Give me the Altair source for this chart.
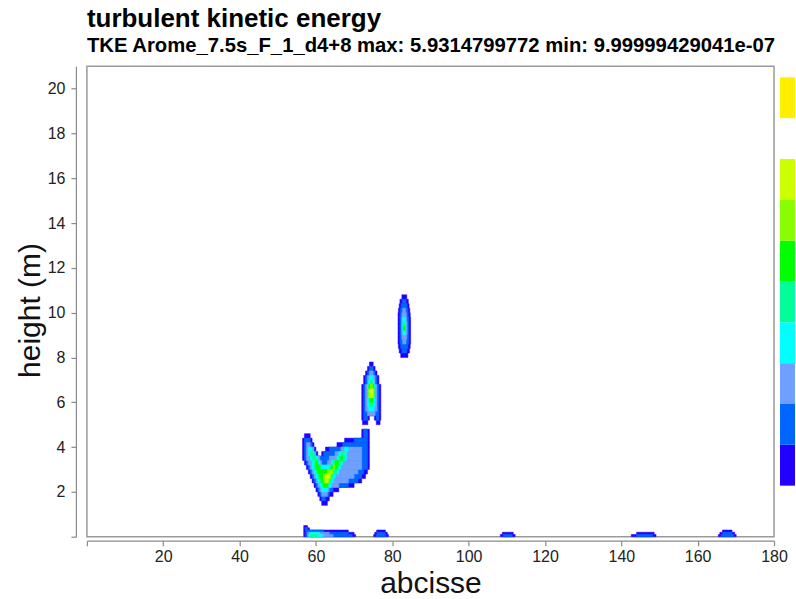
import altair as alt
import pandas as pd

title_text = "turbulent kinetic energy"
subtitle_text = "TKE Arome_7.5s_F_1_d4+8 max: 5.9314799772 min: 9.99999429041e-07"
x_title = "abcisse"
y_title = "height (m)"
x_ticks = [0, 20, 40, 60, 80, 100, 120, 140, 160, 180]
y_ticks = [0, 2, 4, 6, 8, 10, 12, 14, 16, 18, 20]

levels = [1, 2, 3, 4, 5, 6, 7, 8, 9, 10]
level_colors = ["#2200ff", "#0066ff", "#6fa0ff", "#00ffff", "#00ff99",
                "#00ff00", "#88ff00", "#ccff00", "#ffffff", "#ffee00"]

# contour bands: (row bottom height, x start, x end, level)
# rows of 0.2 m
v_blob = [
    (4.6, 72.0, 74.0, 1), (4.6, 72.5, 73.5, 2),
    (4.4, 57.0, 58.5, 1), (4.4, 72.0, 74.0, 1), (4.4, 72.5, 73.5, 2),
    (4.2, 56.5, 59.0, 1), (4.2, 57.0, 58.5, 2), (4.2, 67.5, 74.0, 1), (4.2, 70.0, 73.5, 2),
    (4.0, 56.5, 59.5, 1), (4.0, 57.0, 59.0, 2), (4.0, 57.5, 58.5, 3), (4.0, 65.5, 74.0, 1), (4.0, 67.0, 73.5, 2),
    (3.8, 56.5, 60.0, 1), (3.8, 57.0, 59.5, 2), (3.8, 57.5, 59.5, 3), (3.8, 58.0, 59.0, 4),
    (3.8, 62.5, 74.0, 1), (3.8, 63.5, 73.5, 2), (3.8, 66.5, 72.0, 3), (3.8, 67.5, 68.5, 4),
    (3.6, 56.5, 60.5, 1), (3.6, 57.0, 60.0, 2), (3.6, 57.5, 60.0, 3), (3.6, 58.0, 59.5, 4), (3.6, 58.5, 59.5, 5),
    (3.6, 61.5, 74.0, 1), (3.6, 62.0, 73.5, 2), (3.6, 65.0, 72.0, 3), (3.6, 66.0, 68.0, 4), (3.6, 66.5, 67.5, 5),
    (3.4, 56.5, 74.0, 1), (3.4, 57.0, 73.5, 2), (3.4, 57.5, 61.0, 3), (3.4, 63.5, 72.0, 3),
    (3.4, 58.5, 60.5, 4), (3.4, 59.0, 60.0, 5),
    (3.4, 65.5, 68.0, 4), (3.4, 66.0, 67.5, 5), (3.4, 66.5, 67.0, 6),
    (3.2, 57.0, 74.0, 1), (3.2, 57.5, 73.5, 2), (3.2, 58.0, 61.5, 3), (3.2, 63.0, 72.0, 3),
    (3.2, 59.0, 61.0, 4), (3.2, 59.5, 60.5, 5),
    (3.2, 60.0, 60.5, 6), (3.2, 64.0, 67.0, 4), (3.2, 64.5, 66.5, 5), (3.2, 65.0, 66.0, 6),
    (3.0, 57.5, 74.0, 1), (3.0, 58.0, 73.5, 2), (3.0, 58.5, 72.0, 3), (3.0, 59.0, 66.5, 4), (3.0, 59.5, 61.5, 5),
    (3.0, 60.0, 61.0, 6), (3.0, 63.5, 66.0, 5), (3.0, 64.0, 65.5, 6), (3.0, 64.5, 65.0, 7),
    (2.8, 58.0, 73.5, 1), (2.8, 58.5, 72.5, 2), (2.8, 59.0, 71.0, 3), (2.8, 59.5, 66.0, 4), (2.8, 60.0, 65.5, 5),
    (2.8, 60.5, 64.5, 6), (2.8, 63.0, 64.5, 7),
    (2.6, 58.5, 73.0, 1), (2.6, 59.0, 72.0, 2), (2.6, 59.5, 70.0, 3), (2.6, 60.0, 65.0, 4), (2.6, 60.5, 64.5, 5),
    (2.6, 61.0, 64.0, 6), (2.6, 62.0, 64.0, 7), (2.6, 62.5, 63.5, 8),
    (2.4, 59.0, 72.0, 1), (2.4, 59.5, 71.0, 2), (2.4, 60.0, 68.5, 3), (2.4, 60.5, 64.5, 4), (2.4, 61.0, 64.0, 5),
    (2.4, 61.5, 63.5, 6), (2.4, 62.0, 63.5, 7), (2.4, 62.5, 63.0, 8),
    (2.2, 59.5, 70.0, 1), (2.2, 60.0, 68.5, 2), (2.2, 60.5, 66.0, 3), (2.2, 61.0, 64.0, 4), (2.2, 61.5, 63.5, 5),
    (2.2, 62.0, 63.0, 6),
    (2.0, 60.0, 66.0, 1), (2.0, 60.5, 64.5, 2), (2.0, 61.0, 63.5, 3), (2.0, 61.5, 63.0, 4),
    (1.8, 60.5, 64.5, 1), (1.8, 61.0, 63.5, 2), (1.8, 61.5, 63.0, 3),
    (1.6, 61.0, 63.5, 1), (1.6, 61.5, 62.5, 2),
    (1.4, 61.5, 63.0, 1),
]

mid_blob = [
    (7.6, 74.0, 75.0, 1),
    (7.4, 73.5, 75.5, 1), (7.4, 74.0, 75.0, 2),
    (7.2, 73.0, 76.0, 1), (7.2, 73.5, 75.5, 2), (7.2, 74.0, 75.0, 3),
    (7.0, 72.5, 76.5, 1), (7.0, 73.0, 76.0, 2), (7.0, 73.5, 75.5, 3), (7.0, 74.0, 75.0, 4),
    (6.8, 72.5, 76.5, 1), (6.8, 73.0, 76.0, 2), (6.8, 73.5, 75.5, 3), (6.8, 73.8, 75.2, 4), (6.8, 74.2, 74.8, 5),
    (6.6, 72.0, 77.0, 1), (6.6, 72.5, 76.5, 2), (6.6, 73.0, 76.0, 3), (6.6, 73.5, 75.5, 4), (6.6, 73.8, 75.2, 6),
    (6.6, 74.2, 74.8, 7),
    (6.4, 72.0, 77.0, 1), (6.4, 72.5, 76.5, 2), (6.4, 73.0, 76.0, 3), (6.4, 73.5, 75.5, 5), (6.4, 73.8, 75.2, 7),
    (6.4, 74.1, 74.9, 8),
    (6.2, 72.0, 77.0, 1), (6.2, 72.5, 76.5, 2), (6.2, 73.0, 76.0, 3), (6.2, 73.5, 75.5, 5), (6.2, 73.8, 75.2, 7),
    (6.2, 74.1, 74.9, 8),
    (6.0, 72.0, 77.0, 1), (6.0, 72.5, 76.5, 2), (6.0, 73.0, 76.0, 3), (6.0, 73.5, 75.5, 4), (6.0, 74.0, 75.0, 6),
    (5.8, 72.0, 77.0, 1), (5.8, 72.5, 76.5, 2), (5.8, 73.0, 76.0, 3), (5.8, 73.5, 75.5, 4), (5.8, 74.0, 75.0, 5),
    (5.6, 72.0, 77.0, 1), (5.6, 72.5, 76.5, 2), (5.6, 73.0, 76.0, 3), (5.6, 73.8, 75.2, 4),
    (5.4, 72.0, 77.0, 1), (5.4, 72.5, 76.5, 2), (5.4, 73.5, 75.5, 3),
    (5.2, 72.0, 74.0, 1), (5.2, 72.5, 73.5, 2), (5.2, 75.3, 77.0, 1), (5.2, 75.8, 76.5, 2),
    (5.0, 72.2, 73.6, 1), (5.0, 75.8, 76.8, 1),
]

top_blob = [
    (10.6, 82.5, 83.8, 1),
    (10.4, 82.0, 84.2, 1), (10.4, 82.6, 83.6, 2),
    (10.2, 81.8, 84.4, 1), (10.2, 82.3, 83.9, 2),
    (10.0, 81.6, 84.6, 1), (10.0, 82.1, 84.1, 2), (10.0, 82.7, 83.5, 3),
    (9.8, 81.5, 84.7, 1), (9.8, 82.0, 84.2, 2), (9.8, 82.5, 83.7, 3),
    (9.6, 81.5, 84.8, 1), (9.6, 82.0, 84.3, 2), (9.6, 82.4, 83.8, 3), (9.6, 82.7, 83.5, 4),
    (9.4, 81.5, 84.8, 1), (9.4, 82.0, 84.3, 2), (9.4, 82.4, 83.9, 3), (9.4, 82.7, 83.6, 4), (9.4, 82.9, 83.4, 5),
    (9.2, 81.5, 84.8, 1), (9.2, 82.0, 84.3, 2), (9.2, 82.4, 83.9, 3), (9.2, 82.7, 83.6, 4), (9.2, 82.9, 83.4, 6),
    (9.0, 81.5, 84.8, 1), (9.0, 82.0, 84.3, 2), (9.0, 82.4, 83.9, 3), (9.0, 82.8, 83.5, 4),
    (8.8, 81.5, 84.8, 1), (8.8, 82.0, 84.3, 2), (8.8, 82.5, 83.8, 3),
    (8.6, 81.5, 84.8, 1), (8.6, 82.0, 84.3, 2), (8.6, 82.7, 83.6, 3),
    (8.4, 81.6, 84.7, 1), (8.4, 82.2, 84.1, 2),
    (8.2, 81.8, 84.5, 1), (8.2, 82.5, 83.8, 2),
    (8.0, 82.2, 84.1, 1),
]

# rows of 0.1 m along the ground
ground_blobs = [
    (0.4, 56.8, 57.8, 1),
    (0.3, 56.8, 58.3, 1), (0.3, 57.1, 57.8, 2),
    (0.2, 56.8, 68.5, 1), (0.2, 57.3, 62.0, 2),
    (0.1, 56.8, 70.0, 1), (0.1, 57.3, 68.5, 2), (0.1, 57.8, 63.5, 3), (0.1, 58.3, 61.0, 4),
    (0.0, 56.8, 70.4, 1), (0.0, 57.3, 69.5, 2), (0.0, 57.8, 64.5, 3), (0.0, 58.1, 61.8, 4), (0.0, 58.6, 60.6, 5),
    (0.2, 75.9, 78.2, 1),
    (0.1, 75.4, 78.7, 1), (0.1, 76.0, 78.1, 2),
    (0.0, 75.1, 79.0, 1), (0.0, 75.8, 78.3, 2),
    (0.1, 108.8, 111.7, 1),
    (0.0, 108.3, 112.2, 1), (0.0, 109.1, 111.4, 2),
    (0.1, 144.0, 148.6, 1),
    (0.0, 142.6, 149.1, 1), (0.0, 144.0, 148.2, 2),
    (0.2, 166.5, 169.0, 1),
    (0.1, 165.8, 169.7, 1), (0.1, 166.6, 169.0, 2),
    (0.0, 165.4, 170.1, 1), (0.0, 166.2, 169.4, 2),
]

rows = []
for spans, dy in ((v_blob, 0.2), (mid_blob, 0.2), (top_blob, 0.2), (ground_blobs, 0.1)):
    for (yb, xa, xb, lv) in spans:
        rows.append({"y0": yb, "y1": round(yb + dy, 3), "x0": xa, "x1": xb, "lvl": lv})
# paint lower bands first so the nested higher bands sit on top
field = pd.DataFrame(rows).sort_values("lvl", kind="stable").reset_index(drop=True)

cbar_df = pd.DataFrame({"lvl": levels,
                        "lo": [lv - 1 for lv in levels],
                        "hi": levels})

FONT = "Liberation Sans"
lvl_scale = alt.Scale(domain=levels, range=level_colors)

main = alt.Chart(field).mark_rect(strokeWidth=0.5).encode(
    x=alt.X("x0:Q",
            scale=alt.Scale(domain=[0, 180], nice=False, zero=False),
            axis=alt.Axis(values=x_ticks, title=x_title, offset=4, grid=False,
                          labelExpr="datum.value == 0 ? '' : datum.label",
                          labelFlush=False, labelPadding=3, titlePadding=4)),
    x2="x1:Q",
    y=alt.Y("y0:Q",
            scale=alt.Scale(domain=[0, 21], nice=False, zero=False),
            axis=alt.Axis(values=y_ticks, title=y_title, offset=11, grid=False,
                          labelExpr="datum.value == 0 ? '' : datum.label",
                          labelFlush=False, labelPadding=6, titlePadding=2, titleY=244)),
    y2="y1:Q",
    color=alt.Color("lvl:O", scale=lvl_scale, legend=None),
    stroke=alt.Stroke("lvl:O", scale=lvl_scale, legend=None),
    order=alt.Order("lvl:Q"),
).properties(width=688, height=471)

cbar = alt.Chart(cbar_df).mark_rect().encode(
    x=alt.value(0),
    x2=alt.value(15),
    y=alt.Y("lo:Q", scale=alt.Scale(domain=[-1.25, 10.27], nice=False, zero=False), axis=None),
    y2="hi:Q",
    color=alt.Color("lvl:O", scale=lvl_scale, legend=None),
).properties(width=15, height=471, view=alt.ViewBackground(stroke="transparent"))

chart = alt.hconcat(main, cbar, spacing=6, bounds="flush").resolve_scale(
    y="independent"
).properties(
    title=alt.TitleParams(
        text=title_text, subtitle=subtitle_text, anchor="start", frame="group",
        font=FONT, fontSize=26, fontWeight="bold", color="#000000",
        subtitleFont=FONT, subtitleFontSize=20.3, subtitleFontWeight="bold",
        subtitleColor="#000000", subtitlePadding=4, offset=9),
    padding={"left": 14, "top": 5, "right": 0, "bottom": 0},
    background="white",
).configure_view(
    stroke="#9a9a9a", strokeWidth=1.5
).configure_axis(
    labelFont=FONT, labelFontSize=16, labelColor="#222222",
    titleFont=FONT, titleFontSize=30, titleFontWeight="normal", titleColor="#111111",
    domainColor="#8a8a8a", tickColor="#8a8a8a", tickSize=5, domainWidth=1.2, tickWidth=1.2,
)

chart.save("out.html", embed_options={"renderer": "svg", "actions": False})
